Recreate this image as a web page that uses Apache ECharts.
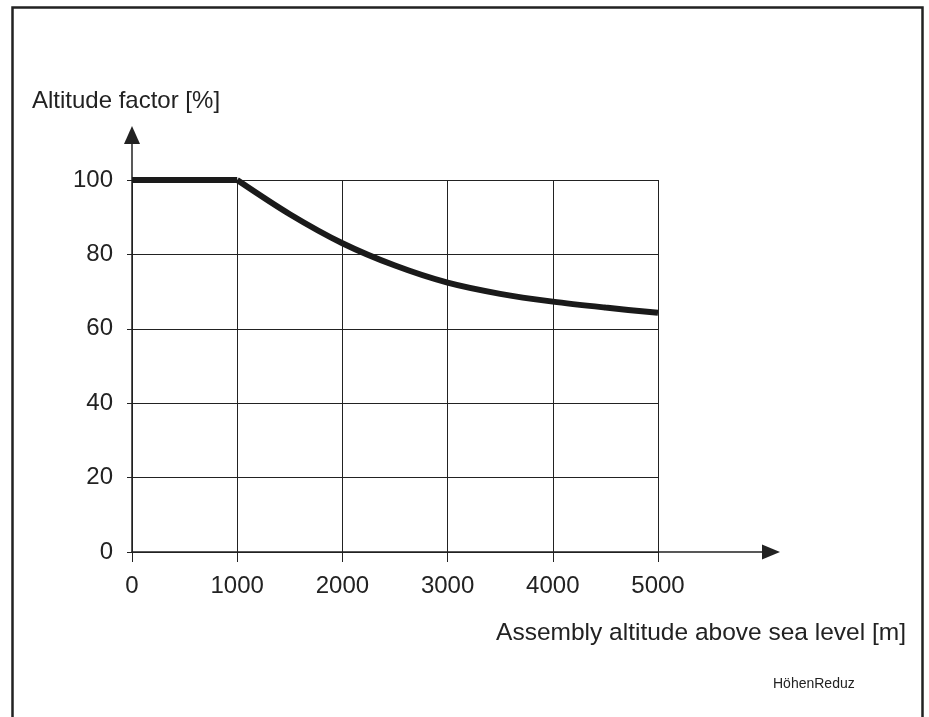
<!DOCTYPE html>
<html>
<head>
<meta charset="utf-8">
<script src="https://cdn.jsdelivr.net/npm/echarts@6/dist/echarts.min.js"></script>
<style>
  html, body { margin: 0; padding: 0; background: #fff; }
  #chart { width: 929px; height: 717px; }
</style>
</head>
<body>
<div id="chart"></div>
<script>
// altitude [m] vs. derating factor [%]
const altitude = [0, 1000, 1500, 2000, 2500, 3000, 3500, 4000, 4500, 5000];
const factor = [100, 100, 90.8, 83, 77, 72.4, 69.4, 67.3, 65.7, 64.3];
const xTicks = [0, 1000, 2000, 3000, 4000, 5000];
const yTicks = [0, 20, 40, 60, 80, 100];

const ink = '#222';
const font = '"Liberation Sans", Arial, sans-serif';

const points = altitude.map((a, i) => [a, factor[i]]);
// flat part up to 1000 m, then the smooth derating curve (sharp corner at 1000 m)
const flatPart = points.slice(0, 2);
const curvePart = points.slice(1);

const lineStyle = { color: '#1a1a1a', width: 6, cap: 'butt' };

const chart = echarts.init(document.getElementById('chart'));

chart.setOption({
  backgroundColor: '#fff',
  animation: false,
  textStyle: { fontFamily: font, color: ink },
  title: {
    text: 'HöhenReduz',
    left: 768,
    top: 672,
    textStyle: { fontFamily: font, fontSize: 14, fontWeight: 'normal', color: ink }
  },
  graphic: [{
    type: 'rect',
    left: 10, top: 5,
    shape: { width: 910, height: 780 },
    style: { fill: 'none', stroke: ink, lineWidth: 2.5 },
    silent: true
  }],
  grid: [
    { left: 132, right: 271, top: 180, bottom: 165 },
    // only carries the arrowed axis lines, which run past the data area
    { left: 132, right: 158, top: 135, bottom: 165 }
  ],
  xAxis: [
    {
      gridIndex: 0,
      type: 'value',
      min: xTicks[0],
      max: xTicks[xTicks.length - 1],
      interval: 1000,
      axisLine: { show: false },
      axisTick: { show: true, length: 10, lineStyle: { color: ink, width: 1 } },
      axisLabel: { margin: 22, fontSize: 24, color: ink, fontFamily: font, formatter: v => String(v) },
      splitLine: { show: true, lineStyle: { color: ink, width: 1 } },
      name: 'Assembly altitude above sea level [m]',
      nameLocation: 'end',
      nameGap: 248,
      nameTextStyle: {
        fontSize: 24.5, color: ink, fontFamily: font,
        align: 'right', verticalAlign: 'top', padding: [69, 0, 0, 0]
      }
    },
    {
      gridIndex: 1,
      type: 'value',
      min: 0, max: 1,
      axisLine: {
        show: true,
        symbol: ['none', 'triangle'],
        symbolSize: [15, 18],
        lineStyle: { color: ink, width: 1.5 }
      },
      axisTick: { show: false },
      axisLabel: { show: false },
      splitLine: { show: false }
    }
  ],
  yAxis: [
    {
      gridIndex: 0,
      type: 'value',
      min: yTicks[0],
      max: yTicks[yTicks.length - 1],
      interval: 20,
      axisLine: { show: false },
      axisTick: { show: true, length: 5, lineStyle: { color: ink, width: 1 } },
      axisLabel: { margin: 19, fontSize: 24, color: ink, fontFamily: font },
      splitLine: { show: true, lineStyle: { color: ink, width: 1 } }
    },
    {
      gridIndex: 1,
      type: 'value',
      min: 0, max: 1,
      axisLine: {
        show: true,
        symbol: ['none', 'triangle'],
        symbolSize: [16, 18],
        lineStyle: { color: ink, width: 1.5 }
      },
      axisTick: { show: false },
      axisLabel: { show: false },
      splitLine: { show: false },
      name: 'Altitude factor [%]',
      nameLocation: 'end',
      nameGap: 22,
      nameTextStyle: { fontSize: 24, color: ink, fontFamily: font, padding: [0, 12, 0, 0] }
    }
  ],
  series: [
    {
      type: 'line',
      xAxisIndex: 0,
      yAxisIndex: 0,
      data: flatPart,
      showSymbol: false,
      clip: false,
      lineStyle: lineStyle
    },
    {
      type: 'line',
      xAxisIndex: 0,
      yAxisIndex: 0,
      data: curvePart,
      smooth: 0.3,
      showSymbol: false,
      clip: false,
      lineStyle: lineStyle
    }
  ]
});
</script>
</body>
</html>
